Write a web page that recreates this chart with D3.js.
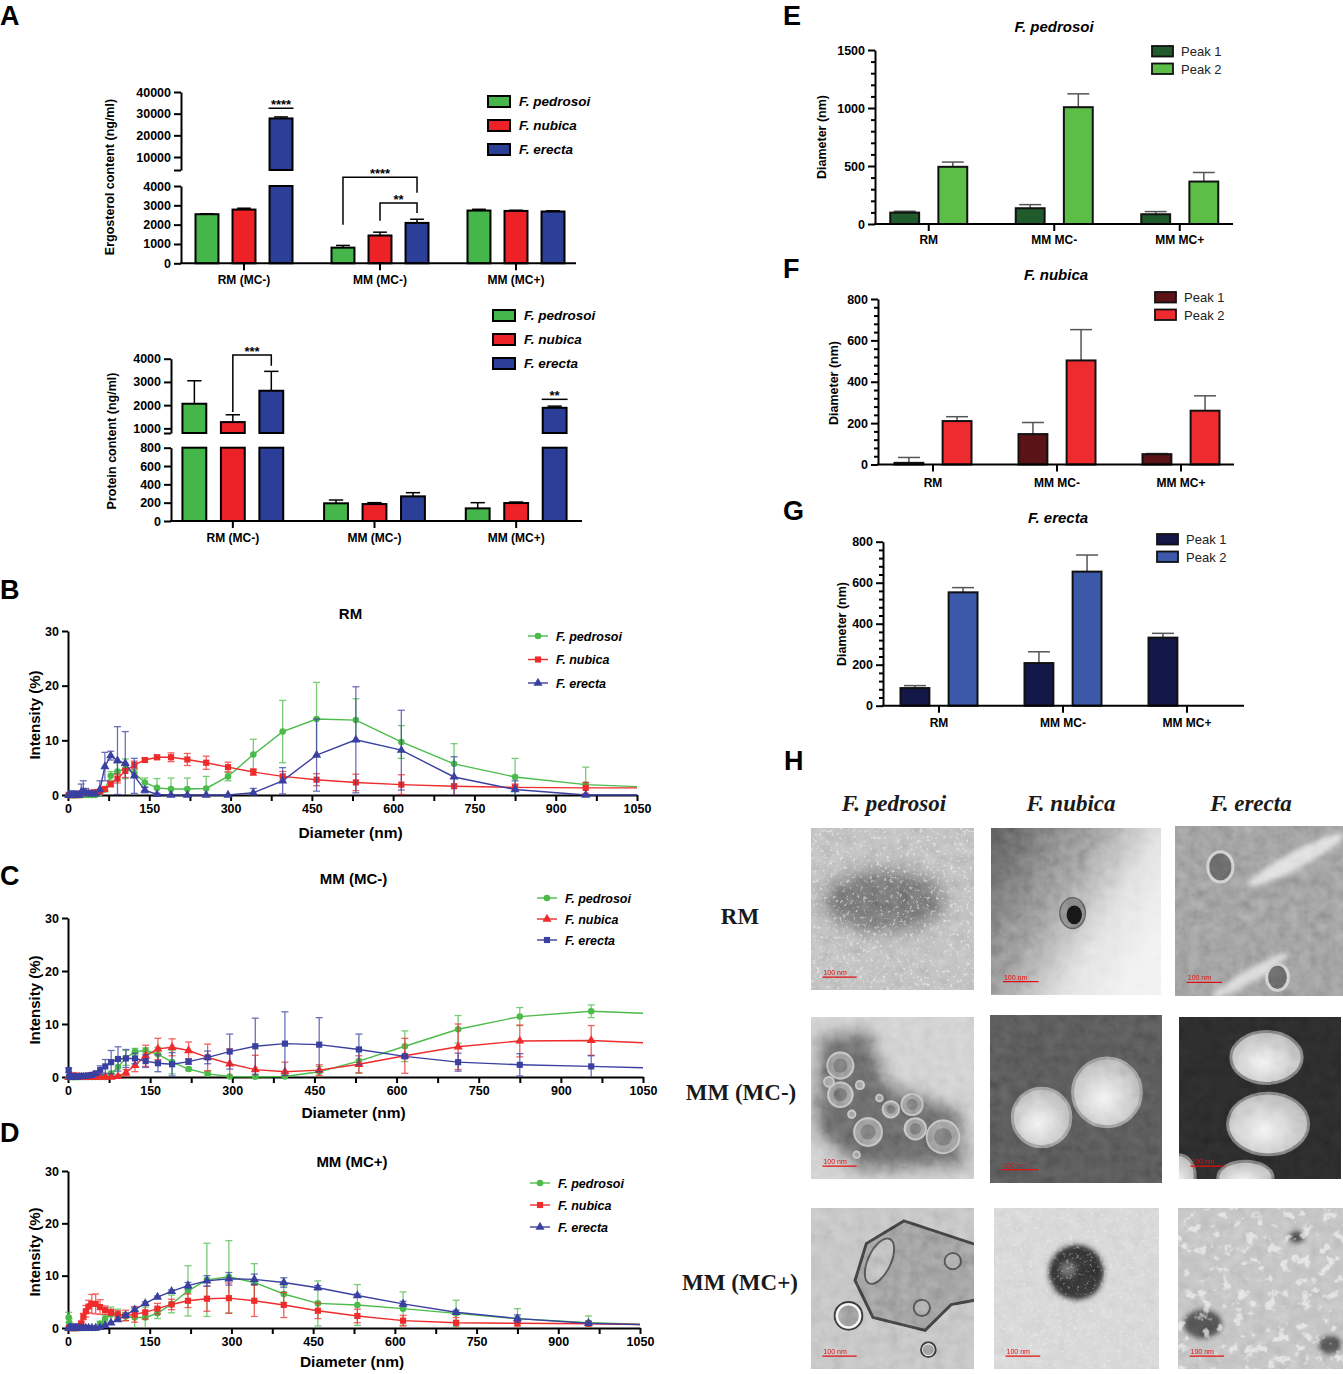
<!DOCTYPE html>
<html lang="en">
<head>
<meta charset="UTF-8">
<title>Extracellular vesicles - ergosterol, protein, DLS and TEM</title>
<style>
  body { margin: 0; background: #fff; }
</style>
</head>
<body>
<svg id="fig" width="1343" height="1374"></svg>
<script src="https://d3js.org/d3.v7.min.js"></script>
<script>
// ---------------- data ----------------
var species = ["F. pedrosoi", "F. nubica", "F. erecta"];
var mediaA = ["RM (MC-)", "MM (MC-)", "MM (MC+)"];

// ergosterol (ng/ml), order = mediaA
var ergoPedrosoi = [2540, 810, 2730],  ergoPedrosoiErr = [20, 115, 65];
var ergoNubica   = [2780, 1440, 2710], ergoNubicaErr   = [70, 170, 35];
var ergoErecta   = [27800, 2090, 2680], ergoErectaErr  = [700, 190, 35];

// protein (ng/ml)
var protPedrosoi = [2060, 193, 138], protPedrosoiErr = [990, 36, 62];
var protNubica   = [1270, 185, 196], protNubicaErr   = [315, 15, 11];
var protErecta   = [2620, 269, 1885], protErectaErr  = [835, 40, 72];

var ergoSig = [
  { text: "****", group: 0, a: 2, b: 2, top: 32500, seg: "hi" },
  { text: "****", group: 1, a: 0, b: 2, top: 4450, legA: 2000, legB: 3650, seg: "lo" },
  { text: "**",   group: 1, a: 1, b: 2, top: 3120, legA: 2200, legB: 2600, seg: "lo" }
];
var protSig = [
  { text: "***", group: 0, a: 1, b: 2, top: 4160, legA: 1700, legB: 3700, seg: "hi" },
  { text: "**",  group: 2, a: 2, b: 2, top: 2250, seg: "hi" }
];

// DLS size bins (nm)
var bins = [1.29, 2.33, 4.19, 6.50, 8.72, 10.1, 11.7, 13.5, 15.7, 18.2, 21.0, 24.4, 28.2, 32.7, 37.8,
            43.8, 50.8, 58.8, 68.1, 78.8, 91.3, 105.7, 122.4, 141.8, 164.2, 190.1, 220.2, 255.0, 295.3,
            342.0, 396.1, 458.7, 531.2, 615.1, 712.4, 825.0, 955.4, 1106];
var xTicksDLS = [0, 150, 300, 450, 600, 750, 900, 1050];
var yTicksDLS = [0, 10, 20, 30];

// RM
var rmPedrosoi    = [0,0,0,0,0, 0,0,0,0,0, 0,0,0,0,0, 0,0, 0.3,1.0,3.5, 4.3,4.8,4.0,2.3,1.3, 1.1,1.1,1.2,3.4,7.4, 11.6,13.9,13.7,9.7,5.7, 3.3,1.9,1.3];
var rmPedrosoiErr = [0,0,0,0,0, 0,0,0,0,0, 0,0,0,0,0, 0,0, 0.2,0.4,0.8, 1.6,1.8,0.7,0.8,1.7, 2.0,2.0,2.2,0.8,2.8, 5.7,6.7,3.9,3.0,3.7, 3.4,3.2,1.0];
var rmNubica      = [0,0,0,0,0, 0,0,0,0,0, 0,0.3,0.4,0.4,0.4, 0.4,0.5, 0.6,1.1,2.0, 3.0,4.4,5.5,6.4,6.9, 6.9,6.5,5.9,5.1,4.2, 3.4,2.8,2.3,1.9,1.6, 1.4,1.3,1.3];
var rmNubicaErr   = [0,0,0,0,0, 0,0,0,0,0, 0,0.2,0.2,0.2,0.2, 0.2,0.2, 0.2,0.3,0.5, 0.8,1.2,0.7,0.3,0.4, 0.8,1.1,1.2,0.9,0.6, 0.9,1.1,1.5,1.8,1.6, 0.6,1.0,0.3];
var rmErecta      = [0,0,0,0,0, 0,0,0,0,0, 0,0.5,0.6,0.4,0.2, 0.2,0.2, 1.0,5.2,7.2, 6.3,5.8,3.5,0.9,0.1, 0,0,0,0,0.4, 2.6,7.3,10.1,8.2,3.3, 1.0,0,0];
var rmErectaErr   = [0,0,0,0,0, 0,0,0,0,0, 0,1.5,2.0,0.8,0.5, 0.5,0.5, 1.6,2.6,0.8, 6.2,5.8,3.2,0.5,0.2, 0,0,0,0,0.8, 2.4,6.6,9.7,7.3,3.7, 1.6,0,0];

// MM (MC-)
var mmNegPedrosoi    = [0,0,0,0,0, 0,0,0,0,0, 0,0,0,0,0, 0,0, 0,0,0.6, 1.9,3.6,4.8,5.0,4.3, 2.8,1.5,0.6,0.1,0.05, 0.1,1.0,3.0,5.8,9.0, 11.4,12.4,11.8];
var mmNegPedrosoiErr = [0,0,0,0,0, 0,0,0,0,0, 0,0,0,0,0, 0,0, 0,0,0.5, 1.5,1.4,0.6,0.5,1.3, 2.2,0.3,0.4,0.1,0.1, 0.1,1.0,2.3,2.9,2.6, 1.7,1.2,0.5];
var mmNegNubica      = [0,0,0,0,0, 0,0,0,0,0, 0,0,0,0,0, 0,0, 0,0,0, 0.1,0.8,2.2,4.0,5.3, 5.6,5.0,3.7,2.5,1.4, 1.0,1.3,2.4,4.0,5.7, 6.8,6.9,6.2];
var mmNegNubicaErr   = [0,0,0,0,0, 0,0,0,0,0, 0,0,0,0,0, 0,0, 0,0,0, 0.2,0.6,1.2,2.0,2.0, 1.6,1.6,2.5,2.8,2.7, 1.8,1.0,1.6,3.3,4.3, 3.0,2.8,0.5];
var mmNegErecta      = [1.3,0.1,0.1,0.1,0.1, 0.1,0.1,0.1,0.1,0.1, 0.1,0.2,0.2,0.2,0.3, 0.4,0.7, 1.3,2.0,2.8, 3.4,3.5,3.5,3.0,2.6, 2.4,2.9,3.7,4.8,5.8, 6.3,6.1,5.2,3.9,2.8, 2.3,2.0,1.6];
var mmNegErectaErr   = [0.4,0,0,0,0, 0,0,0,0,0, 0,0,0,0,0, 0,0.3, 0.8,1.3,2.2, 2.3,1.7,1.0,1.2,1.6, 2.2,0.5,1.2,3.3,5.3, 6.0,5.1,2.9,0.3,1.7, 2.1,2.0,0.3];

// MM (MC+)
var mmPosPedrosoi    = [2.0,1.0,0.3,0,0, 0,0,0,0,0, 0,0,0,0,0, 0,0, 0.8,1.8,2.6, 2.6,2.2,2.0,2.0,2.8, 4.6,7.1,9.2,9.8,8.7, 6.5,4.7,4.4,3.7,2.8, 1.8,1.0,0.6];
var mmPosPedrosoiErr = [1.0,0.8,0.3,0,0, 0,0,0,0,0, 0,0,0,0,0, 0,0, 0.5,0.7,1.4, 1.0,0.8,2.0,2.0,1.0, 1.7,4.8,7.0,6.9,3.6, 1.6,4.3,3.9,3.2,2.5, 1.9,1.3,0.2];
var mmPosNubica      = [0,0,0,0,0, 0,0,0,0,0, 0.3,0.9,2.2,3.2,4.1, 4.6,4.6, 4.0,3.4,3.0, 2.6,2.4,2.6,3.0,3.7, 4.5,5.2,5.6,5.7,5.2, 4.4,3.3,2.3,1.4,1.0, 0.9,0.8,0.6];
var mmPosNubicaErr   = [0,0,0,0,0, 0,0,0,0,0, 0,0.3,0.6,1.1,1.2, 1.8,1.9, 1.4,0.8,0.6, 0.7,1.0,1.5,1.3,1.0, 1.0,1.3,2.4,2.9,3.0, 2.4,1.5,1.3,1.0,1.0, 0.5,0.3,0.1];
var mmPosErecta      = [0,0,0,0,0, 0,0,0,0,0, 0,0,0,0,0, 0,0, 0.1,0.5,1.0, 1.6,2.4,3.5,4.7,5.9, 7.0,8.1,9.0,9.4,9.3, 8.7,7.7,6.2,4.6,3.0, 1.8,0.9,0.5];
var mmPosErectaErr   = [0,0,0,0,0, 0,0,0,0,0, 0,0,0,0,0, 0,0, 0,0,0, 0,0.2,0.3,0.3,0.2, 0.3,0.6,1.0,1.2,1.0, 0.9,0.4,0.3,0.5,0.4, 0.7,0.4,0.1];

// peak diameters (nm)
var peakCats = ["RM", "MM MC-", "MM MC+"];
var peaks = ["Peak 1", "Peak 2"];
var pedPeak1 = [98, 136, 84],   pedPeak1Err = [12, 31, 23];
var pedPeak2 = [493, 1007, 366], pedPeak2Err = [41, 115, 78];
var nubPeak1 = [8, 147, 50],    nubPeak1Err = [26, 56, 3];
var nubPeak2 = [210, 503, 260], nubPeak2Err = [21, 149, 72];
var erePeak1 = [86, 208, 332],  erePeak1Err = [12, 55, 21];
var erePeak2 = [553, 654, 0],   erePeak2Err = [23, 81, 0];

var temCols = ["F. pedrosoi", "F. nubica", "F. erecta"];
var temRows = ["RM", "MM (MC-)", "MM (MC+)"];

// ---------------- setup ----------------
var FONT = "'Liberation Sans', Arial, sans-serif";
var SERIF = "'Liberation Serif', 'Times New Roman', serif";
var barColors = ["#45b649", "#ec2227", "#2c3f98"];
var lineColors = ["#4bbb4a", "#ef2b2b", "#3a40a0"];
var intFmt = d3.format("d");

var svg = d3.select("#fig");
var defs = svg.append("defs");

function axisStyle(sel, fs) {
  sel.attr("font-family", FONT).attr("font-size", fs).attr("font-weight", "bold");
  sel.selectAll("path, line").attr("stroke", "#000").attr("stroke-width", 2);
  sel.selectAll("text").attr("fill", "#000");
}

function label(x, y, txt, opts) {
  opts = opts || {};
  var t = svg.append("text")
    .attr("x", x).attr("y", y)
    .attr("font-family", opts.family || FONT)
    .attr("font-size", opts.size || 12)
    .attr("font-weight", opts.weight || "bold")
    .attr("font-style", opts.style || "normal")
    .attr("text-anchor", opts.anchor || "middle")
    .attr("fill", opts.fill || "#000")
    .text(txt);
  if (opts.rotate) t.attr("transform", "rotate(-90," + x + "," + y + ")");
  return t;
}

// ---------------- panel A: broken-axis bar charts ----------------
function breakBarChart(o) {
  var x = d3.scaleBand().domain(mediaA).range(o.xRange);
  var xi = d3.scaleBand().domain(species).range([-o.half, o.half]).paddingInner(0.38);
  var yL = d3.scaleLinear().domain([0, o.brk]).range([o.y0, o.yLtop]);
  var yU = d3.scaleLinear().domain([o.brk, o.top]).range([o.yUbot, o.yUtop]);
  var yOf = function (v) { return v <= o.brk ? yL(v) : yU(v); };
  var bw = xi.bandwidth();
  var leftOf = function (ci, si) { return x(mediaA[ci]) + x.bandwidth() / 2 + xi(species[si]); };
  var g = svg.append("g");

  o.means.forEach(function (vals, si) {
    vals.forEach(function (v, ci) {
      var left = leftOf(ci, si), e = o.errs[si][ci];
      var yt = yOf(v + e), yb = yOf(v), cx = left + bw / 2;
      g.append("line").attr("x1", cx).attr("x2", cx).attr("y1", yb).attr("y2", yt)
        .attr("stroke", "#000").attr("stroke-width", 1.5);
      g.append("line").attr("x1", cx - bw * 0.3).attr("x2", cx + bw * 0.3).attr("y1", yt).attr("y2", yt)
        .attr("stroke", "#000").attr("stroke-width", 1.5);
      var lowTop = yL(Math.min(v, o.brk));
      g.append("rect").attr("x", left).attr("y", lowTop).attr("width", bw).attr("height", o.y0 - lowTop)
        .attr("fill", barColors[si]).attr("stroke", "#000").attr("stroke-width", 2);
      if (v > o.brk) {
        g.append("rect").attr("x", left).attr("y", yU(v)).attr("width", bw).attr("height", o.yUbot - yU(v))
          .attr("fill", barColors[si]).attr("stroke", "#000").attr("stroke-width", 2);
      }
    });
  });

  // significance marks
  o.sig.forEach(function (s) {
    var ys = s.seg === "hi" ? yU : yL;
    var ty = ys(s.top);
    var xa = leftOf(s.group, s.a), xb = leftOf(s.group, s.b);
    if (s.a === s.b) {
      g.append("line").attr("x1", xa - 1).attr("x2", xa + bw + 1).attr("y1", ty).attr("y2", ty)
        .attr("stroke", "#000").attr("stroke-width", 1.5);
      label(xa + bw / 2, ty + 1, s.text, { size: 13 });
    } else {
      xa += bw / 2; xb += bw / 2;
      g.append("path")
        .attr("d", "M" + xa + "," + ys(s.legA) + "V" + ty + "H" + xb + "V" + ys(s.legB))
        .attr("fill", "none").attr("stroke", "#000").attr("stroke-width", 1.5);
      label((xa + xb) / 2, ty + 1, s.text, { size: 13 });
    }
  });

  var lo = svg.append("g").attr("transform", "translate(" + o.ax + ",0)")
    .call(d3.axisLeft(yL).tickValues(o.lowTicks).tickSize(7).tickSizeOuter(0).tickFormat(intFmt));
  var hi = svg.append("g").attr("transform", "translate(" + o.ax + ",0)")
    .call(d3.axisLeft(yU).tickValues([o.brk].concat(o.upTicks)).tickSize(7).tickSizeOuter(0)
      .tickFormat(function (d) { return d === o.brk ? "" : intFmt(d); }));
  axisStyle(lo, 12.5); axisStyle(hi, 12.5);

  svg.append("line").attr("x1", o.ax - 1).attr("x2", o.xEnd).attr("y1", o.y0).attr("y2", o.y0)
    .attr("stroke", "#000").attr("stroke-width", 2);
  mediaA.forEach(function (m) {
    var cx = x(m) + x.bandwidth() / 2;
    svg.append("line").attr("x1", cx).attr("x2", cx).attr("y1", o.y0).attr("y2", o.y0 + 7)
      .attr("stroke", "#000").attr("stroke-width", 2);
    label(cx, o.labelY, m, { size: 12 });
  });

  label(o.yLabelX, o.yLabelY, o.yLabel, { size: 12.5, rotate: true });

  species.forEach(function (sp, i) {
    var ly = o.legY + i * 24;
    svg.append("rect").attr("x", o.legX).attr("y", ly).attr("width", 22).attr("height", 11)
      .attr("fill", barColors[i]).attr("stroke", "#000").attr("stroke-width", 2);
    label(o.legX + 31, ly + 10, sp, { size: 13.5, style: "italic", anchor: "start" });
  });
}

breakBarChart({
  means: [ergoPedrosoi, ergoNubica, ergoErecta],
  errs: [ergoPedrosoiErr, ergoNubicaErr, ergoErectaErr],
  sig: ergoSig,
  ax: 181, xRange: [176, 584], xEnd: 576, half: 48.5,
  y0: 263.3, yLtop: 186, yUbot: 170, yUtop: 92,
  brk: 4000, top: 40000,
  lowTicks: [0, 1000, 2000, 3000, 4000], upTicks: [10000, 20000, 30000, 40000],
  labelY: 284, yLabel: "Ergosterol content (ng/ml)", yLabelX: 114, yLabelY: 177,
  legX: 488, legY: 96
});

breakBarChart({
  means: [protPedrosoi, protNubica, protErecta],
  errs: [protPedrosoiErr, protNubicaErr, protErectaErr],
  sig: protSig,
  ax: 171, xRange: [162, 587], xEnd: 582, half: 50.4,
  y0: 521, yLtop: 447.7, yUbot: 433, yUtop: 358.7,
  brk: 800, top: 4000,
  lowTicks: [0, 200, 400, 600, 800], upTicks: [1000, 2000, 3000, 4000],
  labelY: 542, yLabel: "Protein content (ng/ml)", yLabelX: 116, yLabelY: 441,
  legX: 493, legY: 310
});

// ---------------- panels B-D: DLS distributions ----------------
var symTypes = { circle: d3.symbolCircle, square: d3.symbolSquare, triangle: d3.symbolTriangle };
var symSize = { circle: 34, square: 38, triangle: 36 };

function dlsChart(o) {
  var x = d3.scaleLinear().domain([0, 1050]).range([o.x0, o.x1]);
  var y = d3.scaleLinear().domain([0, 30]).range([o.y0, o.y1]);
  var clipId = "clip-" + o.key;
  defs.append("clipPath").attr("id", clipId).append("rect")
    .attr("x", o.x0 - 8).attr("y", o.y1 - 20).attr("width", o.x1 - o.x0 + 8).attr("height", o.y0 - o.y1 + 30);

  var minor = d3.range(75, 1050, 150);
  var gx = svg.append("g").attr("transform", "translate(0," + o.y0 + ")")
    .call(d3.axisBottom(x).tickValues(xTicksDLS).tickSize(6).tickSizeOuter(0).tickFormat(intFmt));
  var gm = svg.append("g").attr("transform", "translate(0," + o.y0 + ")")
    .call(d3.axisBottom(x).tickValues(minor).tickSize(6).tickFormat(""));
  gm.select(".domain").remove();
  var gy = svg.append("g").attr("transform", "translate(" + o.x0 + ",0)")
    .call(d3.axisLeft(y).tickValues(yTicksDLS).tickSize(6).tickSizeOuter(0).tickFormat(intFmt));
  axisStyle(gx, 12.5); axisStyle(gm, 12.5); axisStyle(gy, 12.5);

  var plot = svg.append("g").attr("clip-path", "url(#" + clipId + ")");
  o.series.forEach(function (s, si) {
    var col = lineColors[si];
    var eg = plot.append("g").attr("stroke", col).attr("stroke-width", 1.3).attr("opacity", 0.75);
    s.mean.forEach(function (v, i) {
      var e = s.err[i];
      if (!(e > 0)) return;
      var px = x(bins[i]);
      var lo = Math.max(0, v - e), hi = v + e;
      eg.append("line").attr("x1", px).attr("x2", px).attr("y1", y(lo)).attr("y2", y(hi));
      eg.append("line").attr("x1", px - 3.5).attr("x2", px + 3.5).attr("y1", y(hi)).attr("y2", y(hi));
      if (v - e > 0) eg.append("line").attr("x1", px - 3.5).attr("x2", px + 3.5).attr("y1", y(lo)).attr("y2", y(lo));
    });
    var line = d3.line().x(function (d, i) { return x(bins[i]); }).y(function (d) { return y(d); });
    plot.append("path").datum(s.mean).attr("d", line)
      .attr("fill", "none").attr("stroke", col).attr("stroke-width", 1.4);
    var sym = d3.symbol().type(symTypes[s.marker]).size(symSize[s.marker]);
    plot.append("g").selectAll("path").data(s.mean).enter().append("path")
      .attr("d", sym)
      .attr("transform", function (d, i) { return "translate(" + x(bins[i]) + "," + y(d) + ")"; })
      .attr("fill", col);
  });

  label((o.x0 + o.x1) / 2 - 2, o.titleY, o.title, { size: 15 });
  label((o.x0 + o.x1) / 2 - 2, o.xLabelY, "Diameter (nm)", { size: 15.5 });
  label(40, o.yLabelY, "Intensity (%)", { size: 15, rotate: true });

  o.series.forEach(function (s, si) {
    var ly = o.legY + si * o.legStep;
    var col = lineColors[si];
    svg.append("line").attr("x1", o.legX).attr("x2", o.legX + 20).attr("y1", ly).attr("y2", ly)
      .attr("stroke", col).attr("stroke-width", 1.4);
    svg.append("path").attr("d", d3.symbol().type(symTypes[s.marker]).size(symSize[s.marker]))
      .attr("transform", "translate(" + (o.legX + 10) + "," + ly + ")").attr("fill", col);
    label(o.legX + 28, ly + 4.5, species[si], { size: 12.5, style: "italic", anchor: "start" });
  });
}

dlsChart({
  key: "rm", title: "RM", x0: 68, x1: 637, y0: 795, y1: 631,
  titleY: 619, xLabelY: 838, yLabelY: 715,
  legX: 528, legY: 636, legStep: 23.5,
  series: [
    { mean: rmPedrosoi, err: rmPedrosoiErr, marker: "circle" },
    { mean: rmNubica, err: rmNubicaErr, marker: "square" },
    { mean: rmErecta, err: rmErectaErr, marker: "triangle" }
  ]
});

dlsChart({
  key: "mmneg", title: "MM (MC-)", x0: 68, x1: 643, y0: 1077, y1: 918,
  titleY: 884, xLabelY: 1118, yLabelY: 1000,
  legX: 537, legY: 898, legStep: 21,
  series: [
    { mean: mmNegPedrosoi, err: mmNegPedrosoiErr, marker: "circle" },
    { mean: mmNegNubica, err: mmNegNubicaErr, marker: "triangle" },
    { mean: mmNegErecta, err: mmNegErectaErr, marker: "square" }
  ]
});

dlsChart({
  key: "mmpos", title: "MM (MC+)", x0: 68, x1: 640, y0: 1328, y1: 1171,
  titleY: 1167, xLabelY: 1367, yLabelY: 1252,
  legX: 530, legY: 1183, legStep: 22,
  series: [
    { mean: mmPosPedrosoi, err: mmPosPedrosoiErr, marker: "circle" },
    { mean: mmPosNubica, err: mmPosNubicaErr, marker: "square" },
    { mean: mmPosErecta, err: mmPosErectaErr, marker: "triangle" }
  ]
});

// ---------------- panels E-G: peak diameters ----------------
function peakChart(o) {
  var x = d3.scaleBand().domain(peakCats).range(o.xRange);
  var xi = d3.scaleBand().domain(peaks).range([-38.5, 38.5]).paddingInner(0.4);
  var y = d3.scaleLinear().domain([0, o.max]).range([o.y0, o.y1]);
  var bw = xi.bandwidth();
  var g = svg.append("g");
  [o.p1, o.p2].forEach(function (vals, pi) {
    var errs = pi === 0 ? o.p1e : o.p2e;
    vals.forEach(function (v, ci) {
      var left = x(peakCats[ci]) + x.bandwidth() / 2 + xi(peaks[pi]);
      var cx = left + bw / 2, yt = y(v + errs[ci]);
      if (errs[ci] > 0) {
        g.append("line").attr("x1", cx).attr("x2", cx).attr("y1", y(v)).attr("y2", yt)
          .attr("stroke", "#555").attr("stroke-width", 1.5);
        g.append("line").attr("x1", cx - bw * 0.38).attr("x2", cx + bw * 0.38).attr("y1", yt).attr("y2", yt)
          .attr("stroke", "#555").attr("stroke-width", 1.5);
      }
      g.append("rect").attr("x", left).attr("y", y(v)).attr("width", bw).attr("height", o.y0 - y(v))
        .attr("fill", o.colors[pi]).attr("stroke", "#111").attr("stroke-width", 2);
    });
  });

  var gy = svg.append("g").attr("transform", "translate(" + o.ax + ",0)")
    .call(d3.axisLeft(y).tickValues(o.ticks).tickSize(7).tickSizeOuter(0).tickFormat(intFmt));
  var minor = d3.range(0, o.max + 1, o.minorStep).filter(function (v) { return o.ticks.indexOf(v) < 0; });
  var gm = svg.append("g").attr("transform", "translate(" + o.ax + ",0)")
    .call(d3.axisLeft(y).tickValues(minor).tickSize(4).tickFormat(""));
  gm.select(".domain").remove();
  axisStyle(gy, 12.5); axisStyle(gm, 12.5);

  svg.append("line").attr("x1", o.ax - 1).attr("x2", o.xEnd).attr("y1", o.y0).attr("y2", o.y0)
    .attr("stroke", "#000").attr("stroke-width", 2);
  peakCats.forEach(function (c) {
    var cx = x(c) + x.bandwidth() / 2;
    svg.append("line").attr("x1", cx).attr("x2", cx).attr("y1", o.y0).attr("y2", o.y0 + 7)
      .attr("stroke", "#000").attr("stroke-width", 2);
    label(cx, o.labelY, c, { size: 12 });
  });

  label(o.titleX, o.titleY, o.title, { size: 15, style: "italic" });
  label(o.yLabelX, o.yLabelY, "Diameter (nm)", { size: 12.5, rotate: true });

  peaks.forEach(function (p, i) {
    var ly = o.legY + i * 17.5;
    svg.append("rect").attr("x", o.legX).attr("y", ly).attr("width", 21).attr("height", 10.5)
      .attr("fill", o.colors[i]).attr("stroke", "#111").attr("stroke-width", 1.8);
    label(o.legX + 29, ly + 10, p, { size: 13, weight: "normal", anchor: "start", fill: "#222" });
  });
}

peakChart({
  title: "F. pedrosoi", titleX: 1054, titleY: 32,
  p1: pedPeak1, p1e: pedPeak1Err, p2: pedPeak2, p2e: pedPeak2Err,
  colors: ["#215a2b", "#5dbe47"],
  ax: 875, xRange: [866, 1242.5], xEnd: 1233, y0: 224, y1: 50, max: 1500,
  ticks: [0, 500, 1000, 1500], minorStep: 100,
  labelY: 244, yLabelX: 826, yLabelY: 137, legX: 1152, legY: 46
});

peakChart({
  title: "F. nubica", titleX: 1056, titleY: 280,
  p1: nubPeak1, p1e: nubPeak1Err, p2: nubPeak2, p2e: nubPeak2Err,
  colors: ["#5a1316", "#ee2b2f"],
  ax: 878, xRange: [871, 1243], xEnd: 1234, y0: 464.5, y1: 299, max: 800,
  ticks: [0, 200, 400, 600, 800], minorStep: 40,
  labelY: 487, yLabelX: 838, yLabelY: 383, legX: 1155, legY: 292
});

peakChart({
  title: "F. erecta", titleX: 1058, titleY: 523,
  p1: erePeak1, p1e: erePeak1Err, p2: erePeak2, p2e: erePeak2Err,
  colors: ["#141849", "#3b58a9"],
  ax: 883, xRange: [877, 1249], xEnd: 1244, y0: 705.7, y1: 541.7, max: 800,
  ticks: [0, 200, 400, 600, 800], minorStep: 40,
  labelY: 727, yLabelX: 846, yLabelY: 624, legX: 1157, legY: 534
});

// ---------------- panel H: TEM micrograph placeholders ----------------
function noiseFilter(id, freq, seed, matrix, blur) {
  var f = defs.append("filter").attr("id", id).attr("x", 0).attr("y", 0).attr("width", 1).attr("height", 1);
  f.append("feTurbulence").attr("type", "fractalNoise").attr("baseFrequency", freq)
    .attr("numOctaves", 3).attr("seed", seed).attr("result", "n");
  f.append("feColorMatrix").attr("in", "n").attr("type", "matrix").attr("values", matrix).attr("result", "c");
  if (blur) f.append("feGaussianBlur").attr("in", "c").attr("stdDeviation", blur);
}
noiseFilter("grain", 0.09, 3, "0.33 0.33 0.33 0 0  0.33 0.33 0.33 0 0  0.33 0.33 0.33 0 0  0 0 0 0 1");
noiseFilter("specks", 0.3, 7, "0 0 0 0 0.92  0 0 0 0 0.92  0 0 0 0 0.92  6 0 0 0 -3.55", 0.5);
noiseFilter("clumps", 0.09, 11, "0 0 0 0 0.88  0 0 0 0 0.88  0 0 0 0 0.88  7 0 0 0 -4.0", 0.6);
var soft = defs.append("filter").attr("id", "soft").attr("x", "-50%").attr("y", "-50%").attr("width", "200%").attr("height", "200%");
soft.append("feGaussianBlur").attr("stdDeviation", 8);
var soft2 = defs.append("filter").attr("id", "soft2").attr("x", "-50%").attr("y", "-50%").attr("width", "200%").attr("height", "200%");
soft2.append("feGaussianBlur").attr("stdDeviation", 2.5);

var lg = defs.append("linearGradient").attr("id", "nubRM").attr("x1", 0).attr("y1", 0).attr("x2", 1).attr("y2", 0.6);
lg.append("stop").attr("offset", "0%").attr("stop-color", "#4e4e4e");
lg.append("stop").attr("offset", "45%").attr("stop-color", "#8a8a8a");
lg.append("stop").attr("offset", "75%").attr("stop-color", "#dcdcdc");
lg.append("stop").attr("offset", "100%").attr("stop-color", "#efefef");
var rg = defs.append("radialGradient").attr("id", "vesLight").attr("cx", "45%").attr("cy", "60%").attr("r", "60%");
rg.append("stop").attr("offset", "0%").attr("stop-color", "#f2f2f2");
rg.append("stop").attr("offset", "100%").attr("stop-color", "#a9a9a9");

var temLayout = [
  { x: 811, y: 828, w: 163, h: 162, kind: "ped_rm" },
  { x: 991, y: 828, w: 170, h: 167, kind: "nub_rm" },
  { x: 1175, y: 826, w: 168, h: 170, kind: "ere_rm" },
  { x: 811, y: 1017, w: 163, h: 162, kind: "ped_neg" },
  { x: 990, y: 1015, w: 172, h: 168, kind: "nub_neg" },
  { x: 1179, y: 1017, w: 162, h: 162, kind: "ere_neg" },
  { x: 811, y: 1208, w: 163, h: 161, kind: "ped_pos" },
  { x: 994, y: 1208, w: 165, h: 161, kind: "nub_pos" },
  { x: 1178, y: 1208, w: 165, h: 161, kind: "ere_pos" }
];

var temDraw = {
  ped_rm: function (g, X, Y, W) {
    g.append("ellipse").attr("cx", X(0.45)).attr("cy", Y(0.45)).attr("rx", W(0.38)).attr("ry", W(0.2))
      .attr("fill", "#4a4a4a").attr("opacity", 0.7).attr("filter", "url(#soft)");
    return { bg: "#b4b4b4", over: "specks", overOp: 0.55 };
  },
  nub_rm: function (g, X, Y, W) {
    g.append("ellipse").attr("cx", X(0.48)).attr("cy", Y(0.51)).attr("rx", W(0.075)).attr("ry", W(0.09))
      .attr("fill", "#7a7a7a").attr("stroke", "#555").attr("stroke-width", 1.5);
    g.append("ellipse").attr("cx", X(0.49)).attr("cy", Y(0.52)).attr("rx", W(0.045)).attr("ry", W(0.055)).attr("fill", "#141414");
    return { bg: "url(#nubRM)", over: "grain" };
  },
  ere_rm: function (g, X, Y, W) {
    g.append("ellipse").attr("cx", X(0.72)).attr("cy", Y(0.2)).attr("rx", W(0.32)).attr("ry", W(0.05))
      .attr("transform", "rotate(-28," + X(0.72) + "," + Y(0.2) + ")").attr("fill", "#eeeeee").attr("opacity", 0.8).attr("filter", "url(#soft2)");
    g.append("ellipse").attr("cx", X(0.45)).attr("cy", Y(0.88)).attr("rx", W(0.26)).attr("ry", W(0.04))
      .attr("transform", "rotate(-30," + X(0.45) + "," + Y(0.88) + ")").attr("fill", "#e6e6e6").attr("opacity", 0.8).attr("filter", "url(#soft2)");
    [[0.27, 0.24, 0.075], [0.61, 0.89, 0.065]].forEach(function (c) {
      g.append("ellipse").attr("cx", X(c[0])).attr("cy", Y(c[1])).attr("rx", W(c[2])).attr("ry", W(c[2] * 1.2))
        .attr("fill", "#5a5a5a").attr("stroke", "#c8c8c8").attr("stroke-width", 3);
    });
    return { bg: "#8e8e8e", over: "grain" };
  },
  ped_neg: function (g, X, Y, W) {
    g.append("path").attr("d", "M" + X(0.05) + "," + Y(0.12) + "L" + X(0.35) + "," + Y(0.08) + "L" + X(0.48) + "," + Y(0.42) +
      "L" + X(0.92) + "," + Y(0.58) + "L" + X(0.95) + "," + Y(0.92) + "L" + X(0.3) + "," + Y(0.95) + "L" + X(0.02) + "," + Y(0.7) + "Z")
      .attr("fill", "#4c4c4c").attr("opacity", 0.85).attr("filter", "url(#soft)");
    [[0.18, 0.3, 0.08], [0.18, 0.48, 0.075], [0.35, 0.71, 0.085], [0.49, 0.57, 0.05], [0.62, 0.54, 0.065],
     [0.64, 0.69, 0.065], [0.81, 0.74, 0.1], [0.11, 0.4, 0.03], [0.3, 0.42, 0.025], [0.25, 0.6, 0.022],
     [0.42, 0.5, 0.02], [0.28, 0.85, 0.02]].forEach(function (c) {
      g.append("circle").attr("cx", X(c[0])).attr("cy", Y(c[1])).attr("r", W(c[2]))
        .attr("fill", "#8c8c8c").attr("stroke", "#b8b8b8").attr("stroke-width", 2);
      if (c[2] > 0.04) g.append("circle").attr("cx", X(c[0])).attr("cy", Y(c[1])).attr("r", W(c[2] * 0.55)).attr("fill", "#6d6d6d");
    });
    return { bg: "#c9c9c9", over: "grain" };
  },
  nub_neg: function (g, X, Y, W) {
    [[0.3, 0.61, 0.17], [0.68, 0.46, 0.2]].forEach(function (c) {
      g.append("circle").attr("cx", X(c[0])).attr("cy", Y(c[1])).attr("r", W(c[2]))
        .attr("fill", "url(#vesLight)").attr("stroke", "#8c8c8c").attr("stroke-width", 3);
    });
    return { bg: "#4e4e4e", over: "grain" };
  },
  ere_neg: function (g, X, Y, W) {
    [[0.54, 0.25, 0.22, 0.16], [0.55, 0.66, 0.25, 0.19], [0.41, 0.99, 0.17, 0.1], [0.0, 0.98, 0.1, 0.13]].forEach(function (c) {
      g.append("ellipse").attr("cx", X(c[0])).attr("cy", Y(c[1])).attr("rx", W(c[2])).attr("ry", W(c[3]))
        .attr("fill", "url(#vesLight)").attr("stroke", "#707070").attr("stroke-width", 3);
    });
    return { bg: "#262626", over: "grain" };
  },
  ped_pos: function (g, X, Y, W) {
    g.append("path").attr("d", "M" + X(0.34) + "," + Y(0.22) + "L" + X(0.57) + "," + Y(0.08) + "L" + X(1.02) + "," + Y(0.23) +
      "L" + X(1.02) + "," + Y(0.57) + "L" + X(0.86) + "," + Y(0.6) + "L" + X(0.7) + "," + Y(0.76) + "L" + X(0.38) + "," + Y(0.68) +
      "L" + X(0.27) + "," + Y(0.45) + "Z")
      .attr("fill", "#8e8e8e").attr("stroke", "#3a3a3a").attr("stroke-width", 3);
    g.append("ellipse").attr("cx", X(0.42)).attr("cy", Y(0.33)).attr("rx", W(0.07)).attr("ry", W(0.15))
      .attr("transform", "rotate(25," + X(0.42) + "," + Y(0.33) + ")").attr("fill", "#b3b3b3").attr("stroke", "#4a4a4a").attr("stroke-width", 2);
    [[0.87, 0.33, 0.05], [0.68, 0.62, 0.05]].forEach(function (c) {
      g.append("circle").attr("cx", X(c[0])).attr("cy", Y(c[1])).attr("r", W(c[2])).attr("fill", "#a0a0a0").attr("stroke", "#4a4a4a").attr("stroke-width", 2);
    });
    [[0.23, 0.67, 0.085], [0.72, 0.88, 0.045]].forEach(function (c) {
      g.append("circle").attr("cx", X(c[0])).attr("cy", Y(c[1])).attr("r", W(c[2])).attr("fill", "#f4f4f4").attr("stroke", "#333").attr("stroke-width", 2);
      g.append("circle").attr("cx", X(c[0])).attr("cy", Y(c[1])).attr("r", W(c[2] * 0.75)).attr("fill", "#8a8a8a");
    });
    return { bg: "#bababa", over: "grain" };
  },
  nub_pos: function (g, X, Y, W) {
    g.append("circle").attr("cx", X(0.5)).attr("cy", Y(0.4)).attr("r", W(0.17)).attr("fill", "#2e2e2e").attr("filter", "url(#soft2)");
    g.append("circle").attr("cx", X(0.45)).attr("cy", Y(0.38)).attr("r", W(0.05)).attr("fill", "#5e5e5e").attr("filter", "url(#soft2)");
    return { bg: "#cfcfcf", over: "specks", overOp: 0.35 };
  },
  ere_pos: function (g, X, Y, W) {
    [[0.15, 0.72, 0.12, 0.09], [0.72, 0.18, 0.05, 0.04], [0.92, 0.85, 0.07, 0.06]].forEach(function (c) {
      g.append("ellipse").attr("cx", X(c[0])).attr("cy", Y(c[1])).attr("rx", W(c[2])).attr("ry", W(c[3]))
        .attr("fill", "#4a4a4a").attr("filter", "url(#soft2)");
    });
    return { bg: "#b8b8b8", over: "clumps", overOp: 0.7 };
  }
};

temLayout.forEach(function (m, i) {
  var cid = "tem" + i;
  defs.append("clipPath").attr("id", cid).append("rect").attr("x", m.x).attr("y", m.y).attr("width", m.w).attr("height", m.h);
  var g = svg.append("g").attr("clip-path", "url(#" + cid + ")");
  var base = g.append("rect").attr("x", m.x).attr("y", m.y).attr("width", m.w).attr("height", m.h);
  var X = function (u) { return m.x + u * m.w; };
  var Y = function (v) { return m.y + v * m.h; };
  var W = function (s) { return s * m.w; };
  var res = temDraw[m.kind](g, X, Y, W);
  base.attr("fill", res.bg);
  g.append("rect").attr("x", m.x).attr("y", m.y).attr("width", m.w).attr("height", m.h)
    .attr("filter", "url(#grain)").attr("opacity", 0.45).style("mix-blend-mode", "overlay");
  if (res.over !== "grain") {
    g.append("rect").attr("x", m.x).attr("y", m.y).attr("width", m.w).attr("height", m.h)
      .attr("filter", "url(#" + res.over + ")").attr("opacity", res.overOp);
  }
  var sx = X(0.07), sy = Y(0.92);
  g.append("line").attr("x1", sx).attr("x2", sx + m.w * 0.21).attr("y1", sy).attr("y2", sy)
    .attr("stroke", "#e01010").attr("stroke-width", 1.2);
  g.append("text").attr("x", sx + 1).attr("y", sy - 2).attr("font-family", FONT).attr("font-size", 7)
    .attr("fill", "#e01010").text("100 nm");
});

[[894, 811], [1071, 811], [1251, 811]].forEach(function (p, i) {
  label(p[0], p[1], temCols[i], { family: SERIF, size: 23, style: "italic", fill: "#1a1a1a" });
});
[[740, 924], [741, 1100], [740, 1290]].forEach(function (p, i) {
  label(p[0], p[1], temRows[i], { family: SERIF, size: 23, fill: "#1a1a1a" });
});

// ---------------- panel letters ----------------
[["A", 0, 25], ["B", 0, 599], ["C", 0, 885], ["D", 0, 1142],
 ["E", 783, 25], ["F", 783, 278], ["G", 783, 520], ["H", 784, 770]].forEach(function (l) {
  label(l[1], l[2], l[0], { size: 27, anchor: "start" });
});
</script>
</body>
</html>
